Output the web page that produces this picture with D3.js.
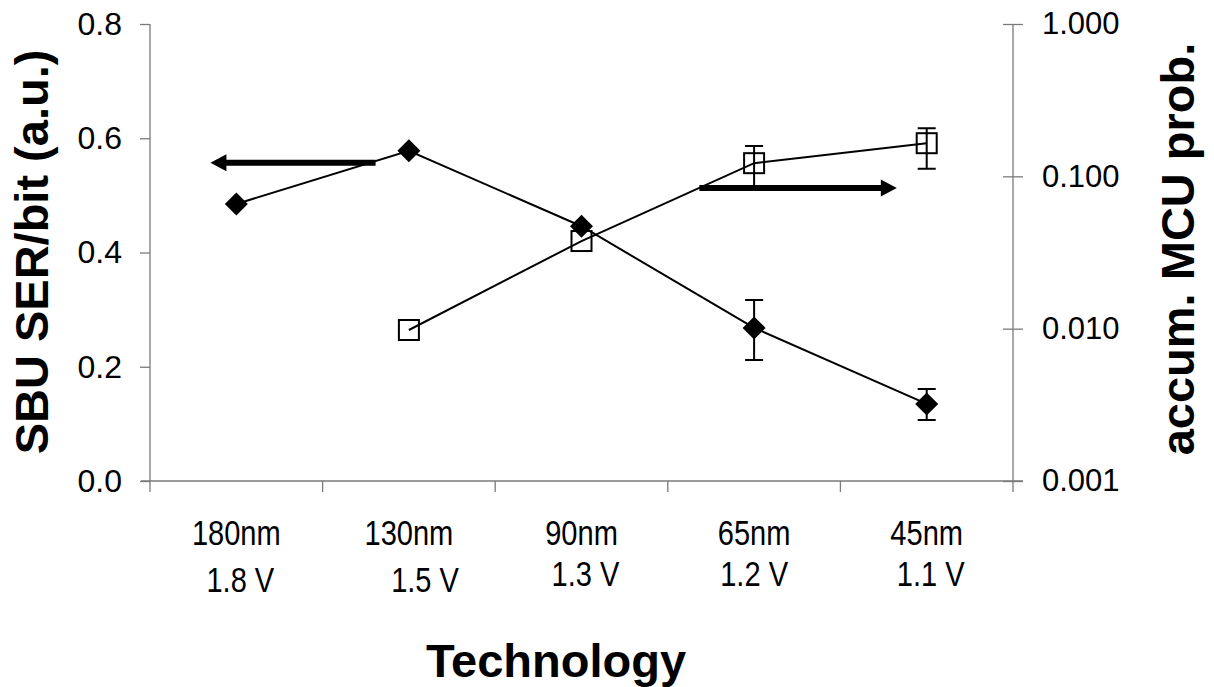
<!DOCTYPE html>
<html>
<head>
<meta charset="utf-8">
<script src="https://cdn.jsdelivr.net/npm/d3@7"></script>
<style>
  html, body { margin: 0; padding: 0; background: #fff; }
  svg { display: block; font-family: "Liberation Sans", Arial, sans-serif; }
</style>
</head>
<body>
<svg id="chart" width="1214" height="687"></svg>
<script>
// Technology nodes and supply voltages (second line of each category label)
const nodes = ["180nm", "130nm", "90nm", "65nm", "45nm"];
const voltages = ["\u00a01.8 V", "\u00a0\u00a0\u00a0\u00a01.5 V", "\u00a01.3 V", "1.2 V", "\u00a01.1 V"];

// Single-bit-upset soft error rate per bit (left axis, a.u.)
const sbuNodes = ["180nm", "130nm", "90nm", "65nm", "45nm"];
const sbuValues = [0.485, 0.578, 0.446, 0.268, 0.135];
const sbuErrLow = [null, null, null, 0.212, 0.107];
const sbuErrHigh = [null, null, null, 0.317, 0.161];

// Accumulated multi-cell-upset probability (right axis, log)
const mcuNodes = ["130nm", "90nm", "65nm", "45nm"];
const mcuValues = [0.0098, 0.0376, 0.122, 0.165];
const mcuErrLow = [null, null, 0.085, 0.112];
const mcuErrHigh = [null, null, 0.158, 0.207];

// Axis ticks
const leftTicks = [0, 0.2, 0.4, 0.6, 0.8];
const rightTicks = [0.001, 0.01, 0.1, 1];

// Arrows pointing each series to its axis: x in category-index units, y in axis units
const leftArrow = { from: 0.807, to: -0.15, value: 0.557 };
const rightArrow = { from: 2.683, to: 3.827, value: 0.0838 };

const svg = d3.select("#chart");
const plotL = 150, plotR = 1013, plotT = 24, plotB = 481;
const axisColor = "#7a7a7a";

const x = d3.scaleBand().domain(nodes).range([plotL, plotR]).paddingInner(0).paddingOuter(0);
const xi = d3.scaleLinear().domain([0, nodes.length - 1])
  .range([x(nodes[0]) + x.bandwidth() / 2, x(nodes[nodes.length - 1]) + x.bandwidth() / 2]);
const yL = d3.scaleLinear().domain([0, 0.8]).range([plotB, plotT]);
const yR = d3.scaleLog().domain([0.001, 1]).range([plotB, plotT]);
const cx = n => x(n) + x.bandwidth() / 2;

// ---- Axes ----
const gL = svg.append("g").attr("transform", `translate(${plotL},0)`)
  .call(d3.axisLeft(yL).tickValues(leftTicks).tickFormat(d3.format(".1f")).tickSize(10).tickPadding(18));
gL.selectAll(".domain").attr("d", `M0,${plotT}V${plotB}`).attr("stroke", axisColor).attr("stroke-width", 1.3);
gL.selectAll(".tick line").attr("stroke", axisColor).attr("stroke-width", 1.3);
gL.selectAll(".tick text").attr("font-size", 32).attr("fill", "#000")
  .attr("font-family", "'Liberation Sans', Arial, sans-serif");

const gR = svg.append("g").attr("transform", `translate(${plotR},0)`)
  .call(d3.axisRight(yR).tickValues(rightTicks).tickFormat(d3.format(".3f")).tickSize(10).tickPadding(19));
gR.selectAll(".domain").attr("d", `M0,${plotT}V${plotB}`).attr("stroke", axisColor).attr("stroke-width", 1.3);
gR.selectAll(".tick line").attr("x1", -10).attr("x2", 10).attr("stroke", axisColor).attr("stroke-width", 1.3);
gR.selectAll(".tick text").attr("font-size", 31).attr("fill", "#000")
  .attr("font-family", "'Liberation Sans', Arial, sans-serif");

const gX = svg.append("g").attr("transform", `translate(0,${plotB})`)
  .call(d3.axisBottom(x).tickValues([]).tickSize(0));
gX.selectAll(".domain").attr("d", `M${plotL - 9},0H${plotR + 10}`).attr("stroke", axisColor).attr("stroke-width", 1.3);
// category boundary ticks
const bounds = nodes.map(n => x(n)).concat([x(nodes[nodes.length - 1]) + x.bandwidth()]);
gX.selectAll("line.bound").data(bounds).join("line").attr("class", "bound")
  .attr("x1", d => d).attr("x2", d => d).attr("y1", 0).attr("y2", 11)
  .attr("stroke", axisColor).attr("stroke-width", 1.3);

// category labels (two lines, condensed type)
const catLabels = svg.append("g").attr("font-size", 35).attr("fill", "#000").attr("text-anchor", "middle");
catLabels.selectAll("text.node").data(nodes).join("text").attr("class", "node")
  .attr("transform", d => `translate(${cx(d)},545) scale(0.83,1)`).text(d => d);
catLabels.selectAll("text.volt").data(voltages).join("text").attr("class", "volt")
  .style("white-space", "pre")
  .attr("transform", (d, i) => `translate(${cx(nodes[i])},${i < 2 ? 592 : 586}) scale(0.83,1)`).text(d => d);

// axis titles
svg.append("text").attr("x", 556).attr("y", 677).attr("text-anchor", "middle")
  .attr("font-size", 47).attr("font-weight", "bold").text("Technology");
svg.append("text").attr("transform", "translate(48,252) rotate(-90)").attr("text-anchor", "middle")
  .attr("font-size", 47).attr("font-weight", "bold").text("SBU SER/bit (a.u.)");
svg.append("text").attr("transform", "translate(1194,249) rotate(-90)").attr("text-anchor", "middle")
  .attr("font-size", 47).attr("font-weight", "bold").text("accum. MCU prob.");

// ---- MCU series (open squares, right axis) ----
const mcu = mcuNodes.map((n, i) => ({ n, v: mcuValues[i], lo: mcuErrLow[i], hi: mcuErrHigh[i] }));
const gM = svg.append("g");
gM.append("path").datum(mcu)
  .attr("d", d3.line().x(d => cx(d.n)).y(d => yR(d.v)))
  .attr("fill", "none").attr("stroke", "#000").attr("stroke-width", 2);
gM.selectAll("rect").data(mcu).join("rect")
  .attr("x", d => cx(d.n) - 10).attr("y", d => yR(d.v) - 10)
  .attr("width", 20).attr("height", 20)
  .attr("fill", "none").attr("stroke", "#000").attr("stroke-width", 2);
const mcuErr = mcu.filter(d => d.lo != null);
gM.selectAll("path.err").data(mcuErr).join("path").attr("class", "err")
  .attr("d", d => `M${cx(d.n)},${yR(d.lo)}V${yR(d.hi)}M${cx(d.n) - 9},${yR(d.hi)}H${cx(d.n) + 9}M${cx(d.n) - 9},${yR(d.lo)}H${cx(d.n) + 9}`)
  .attr("fill", "none").attr("stroke", "#000").attr("stroke-width", 2);

// ---- SBU series (filled diamonds, left axis) ----
const sbu = sbuNodes.map((n, i) => ({ n, v: sbuValues[i], lo: sbuErrLow[i], hi: sbuErrHigh[i] }));
const gS = svg.append("g");
gS.append("path").datum(sbu)
  .attr("d", d3.line().x(d => cx(d.n)).y(d => yL(d.v)))
  .attr("fill", "none").attr("stroke", "#000").attr("stroke-width", 2);
const sbuErr = sbu.filter(d => d.lo != null);
gS.selectAll("path.err").data(sbuErr).join("path").attr("class", "err")
  .attr("d", d => `M${cx(d.n)},${yL(d.lo)}V${yL(d.hi)}M${cx(d.n) - 9},${yL(d.hi)}H${cx(d.n) + 9}M${cx(d.n) - 9},${yL(d.lo)}H${cx(d.n) + 9}`)
  .attr("fill", "none").attr("stroke", "#000").attr("stroke-width", 2);
gS.selectAll("path.pt").data(sbu).join("path").attr("class", "pt")
  .attr("d", d => { const px = cx(d.n), py = yL(d.v), r = 11.5; return `M${px},${py - r}L${px + r},${py}L${px},${py + r}L${px - r},${py}Z`; })
  .attr("fill", "#000");

// ---- Arrows ----
function arrow(x0, x1, y) {
  const dir = Math.sign(x1 - x0), head = 16, half = 8.5, w = 3;
  const xb = x1 - dir * head;
  return `M${x0},${y - w}H${xb}V${y - half}L${x1},${y}L${xb},${y + half}V${y + w}H${x0}Z`;
}
svg.append("path").attr("d", arrow(xi(leftArrow.from), xi(leftArrow.to), yL(leftArrow.value))).attr("fill", "#000");
svg.append("path").attr("d", arrow(xi(rightArrow.from), xi(rightArrow.to), yR(rightArrow.value))).attr("fill", "#000");
</script>
</body>
</html>
